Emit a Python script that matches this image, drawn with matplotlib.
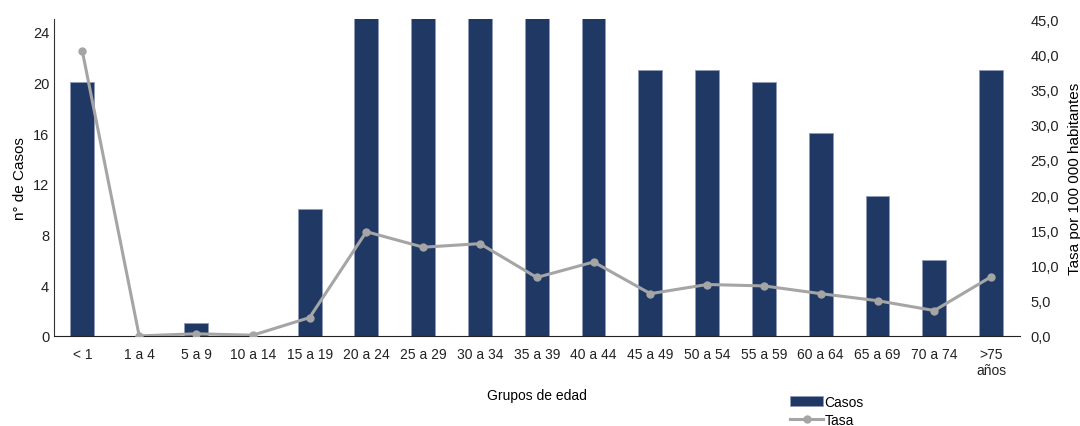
import matplotlib.pyplot as plt
import numpy as np

plt.rcParams['font.family'] = ['Liberation Sans', 'DejaVu Sans']

grupos = ['< 1', '1 a 4', '5 a 9', '10 a 14', '15 a 19', '20 a 24', '25 a 29',
          '30 a 34', '35 a 39', '40 a 44', '45 a 49', '50 a 54', '55 a 59',
          '60 a 64', '65 a 69', '70 a 74', '>75\naños']
casos = [20, 0, 1, 0, 10, 52, 44, 46, 29, 37, 21, 21, 20, 16, 11, 6, 21]
tasa = [40.4, 0.0, 0.3, 0.1, 2.6, 14.8, 12.6, 13.1, 8.3, 10.5, 6.0, 7.3, 7.1,
        6.0, 5.0, 3.6, 8.4]

bar_color = '#203864'
line_color = '#a5a5a5'

fig = plt.figure(figsize=(10.8, 4.27), dpi=100)
ax1 = fig.add_axes([0.05, 0.211, 0.894, 0.742])
x = np.arange(len(grupos))

ax1.bar(x, casos, width=0.42, color=bar_color, edgecolor='#8f9bb8',
        linewidth=0.6, label='Casos', zorder=2)
ax1.set_xlim(-0.5, len(grupos) - 0.5)
ax1.set_ylim(0, 25)
ax1.set_yticks(range(0, 25, 4))
ax1.set_xticks(x)
ax1.set_xticklabels(grupos, fontsize=10, color='#222222')
ax1.tick_params(axis='x', length=0, pad=8)
ax1.tick_params(axis='y', length=0, labelsize=10.5, colors='#222222')
ax1.set_ylabel('n° de Casos', fontsize=11)
ax1.set_xlabel('Grupos de edad', fontsize=10, labelpad=8)
for s in ['top', 'right']:
    ax1.spines[s].set_visible(False)
ax1.spines['left'].set_color('#333333')
ax1.spines['bottom'].set_color('#222222')

ax2 = ax1.twinx()
ax2.plot(x, tasa, color=line_color, linewidth=2.2, marker='o', markersize=5,
         label='Tasa', zorder=3)
ax2.set_ylim(0, 45)
ax2.set_yticks(np.arange(0, 46, 5))
ax2.set_yticklabels([f'{v:.1f}'.replace('.', ',') for v in np.arange(0, 46, 5)])
ax2.tick_params(axis='y', length=0, labelsize=10.5, colors='#222222', pad=8)
ax2.set_ylabel('Tasa por 100 000 habitantes', fontsize=11, labelpad=6)
for s in ax2.spines.values():
    s.set_visible(False)

h1, l1 = ax1.get_legend_handles_labels()
h2, l2 = ax2.get_legend_handles_labels()
fig.legend(h1 + h2, l1 + l2, loc='center left', bbox_to_anchor=(0.725, 0.036),
           frameon=False, fontsize=10, handlelength=2.4, labelspacing=0.3,
           handletextpad=0.1, borderpad=0)

fig.savefig('out.png', dpi=100)
